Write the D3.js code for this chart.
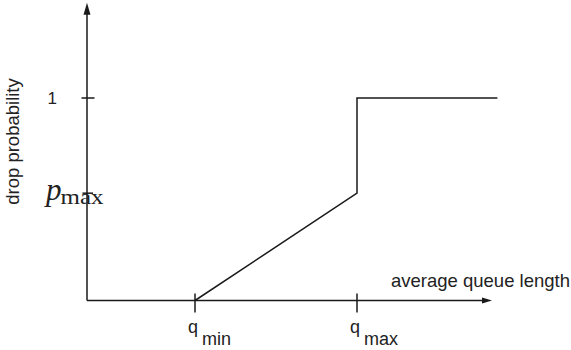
<!DOCTYPE html>
<html>
<head>
<meta charset="utf-8">
<script src="https://cdn.jsdelivr.net/npm/d3@7"></script>
<style>
  body { margin: 0; background: #fff; }
  svg { display: block; }
  text { font-family: "Liberation Sans", Arial, sans-serif; fill: #222; }
</style>
</head>
<body>
<div id="chart"></div>
<script>
'use strict'

// RED drop curve: queue length -> drop probability
const queueLengths = [2, 5, 5, 7.6]
const dropProbs = [0, 0.53, 1, 1]

const xTickValues = [2, 5]
const xTickSubs = ["min", "max"]
const yTickValues = [1, 0.53]
const yTickLabels = ["1", "p_max"]

const xAxisEnd = 7.5
const yAxisEnd = 1.47

const width = 571, height = 350
const ink = "#1a1a1a"

const svg = d3.select("#chart").append("svg")
  .attr("width", width).attr("height", height)

const x = d3.scaleLinear().domain([0, 7.6]).range([87, 497.4])
const y = d3.scaleLinear().domain([0, 1]).range([300.5, 98])

// axes
svg.append("line")
  .attr("x1", x(0)).attr("x2", x(xAxisEnd) - 6)
  .attr("y1", y(0)).attr("y2", y(0))
  .attr("stroke", ink).attr("stroke-width", 1.5)
svg.append("path")
  .attr("d", `M${x(xAxisEnd)},${y(0)} l-10,-3 l0,6 z`)
  .attr("fill", ink)

svg.append("line")
  .attr("x1", x(0)).attr("x2", x(0))
  .attr("y1", y(0)).attr("y2", y(yAxisEnd) + 8)
  .attr("stroke", ink).attr("stroke-width", 1.5)
svg.append("path")
  .attr("d", `M${x(0)},${y(yAxisEnd)} l-3.5,12 l7,0 z`)
  .attr("fill", ink)

// x ticks and labels
const xt = svg.append("g").selectAll("g").data(xTickValues).join("g")
  .attr("transform", d => `translate(${x(d)},${y(0)})`)
xt.append("line")
  .attr("y1", -7).attr("y2", 12)
  .attr("stroke", ink).attr("stroke-width", 1.5)
const xl = xt.append("text")
  .attr("x", -7).attr("y", 32)
  .attr("font-size", 18)
xl.append("tspan").text("q")
xl.append("tspan").attr("dx", 4).attr("dy", 12).text((d, i) => xTickSubs[i])

// y ticks
svg.append("g").selectAll("line").data(yTickValues).join("line")
  .attr("x1", (d, i) => x(0) - (i ? 4.5 : 5.5)).attr("x2", (d, i) => x(0) + (i ? 6 : 7.5))
  .attr("y1", d => y(d)).attr("y2", d => y(d))
  .attr("stroke", ink).attr("stroke-width", 1.5)

svg.append("text")
  .attr("x", 57).attr("y", y(yTickValues[0]))
  .attr("dy", "0.35em")
  .attr("text-anchor", "end")
  .attr("font-size", 17)
  .text(yTickLabels[0])

const pl = svg.append("text")
  .attr("x", 46).attr("y", y(yTickValues[1]) + 7)
  .style("font-family", "'Liberation Serif', 'Times New Roman', serif")
pl.append("tspan").attr("font-size", 31).attr("font-style", "italic")
  .text(yTickLabels[1].split("_")[0])
pl.append("tspan").attr("font-size", 21).attr("dx", -1).attr("dy", 4)
  .attr("textLength", 43).attr("lengthAdjust", "spacingAndGlyphs")
  .text(yTickLabels[1].split("_")[1])

// axis titles
svg.append("text")
  .attr("x", 391).attr("y", 287)
  .attr("font-size", 18.5)
  .text("average queue length")

svg.append("text")
  .attr("transform", "translate(19,141.5) rotate(-90)")
  .attr("text-anchor", "middle")
  .attr("font-size", 18.5)
  .text("drop probability")

// drop curve
const line = d3.line().x(d => x(d[0])).y(d => y(d[1]))
svg.append("path")
  .datum(d3.zip(queueLengths, dropProbs))
  .attr("d", line)
  .attr("fill", "none")
  .attr("stroke", ink)
  .attr("stroke-width", 1.5)
</script>
</body>
</html>
